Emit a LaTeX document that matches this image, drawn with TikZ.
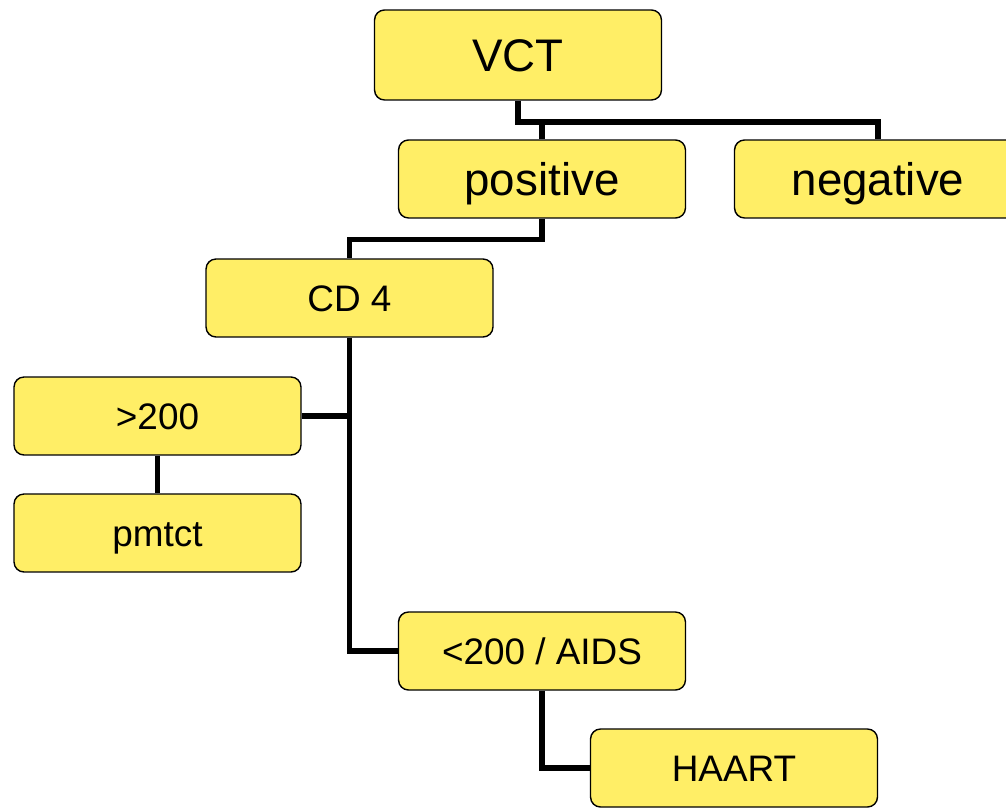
\documentclass[tikz,border=0pt]{standalone}
\usepackage{fontspec}
\setmainfont{Liberation Sans}
\definecolor{boxyellow}{RGB}{255,238,102}
\tikzset{
	box/.style={draw=black, line width=0.8pt, fill=boxyellow, rounded corners=0.2cm,
		minimum width=5.74cm, minimum height=1.56cm, inner sep=0pt, text depth=0pt},
	bigbox/.style={box, font=\fontsize{26}{28}\selectfont, text height=18.6pt},
	smallbox/.style={box, font=\fontsize{21}{24}\selectfont, text height=15pt},
	link/.style={line width=2.9pt, line join=miter, draw=black}
}
\begin{document}
\begin{tikzpicture}[x=0.02cm, y=-0.02cm]
			\useasboundingbox (0,0) rectangle (1006,807);
			% boxes
			\node[bigbox, minimum height=1.8cm] (vct) at (518,55) {VCT};
			\node[bigbox] (pos) at (542,179) {positive};
			\node[bigbox] (neg) at (878,179) {negative};
			\node[smallbox] (cd4) at (349.5,298) {CD 4};
			\node[smallbox] (gt) at (157.5,416) {>200};
			\node[smallbox] (pmtct) at (157.5,533) {pmtct};
			\node[smallbox] (aids) at (542,651) {<200 / AIDS};
			\node[smallbox] (haart) at (734,768) {HAART};
			% connectors
			\coordinate (j1) at (518,122);
			\draw[link] (vct.south) -- (j1) -| (neg.north);
			\draw[link] (pos.north) -- (pos.north |- j1);
			\draw[link] (pos.south) -- ++(0,21) -| (cd4.north);
			\draw[link] (cd4.south) |- (aids.west);
			\draw[link] (gt.east) -- (gt.east -| cd4.south);
			\draw[link] (gt.south) -- (pmtct.north);
			\draw[link] (aids.south) |- (haart.west);
		\end{tikzpicture}
\end{document}
